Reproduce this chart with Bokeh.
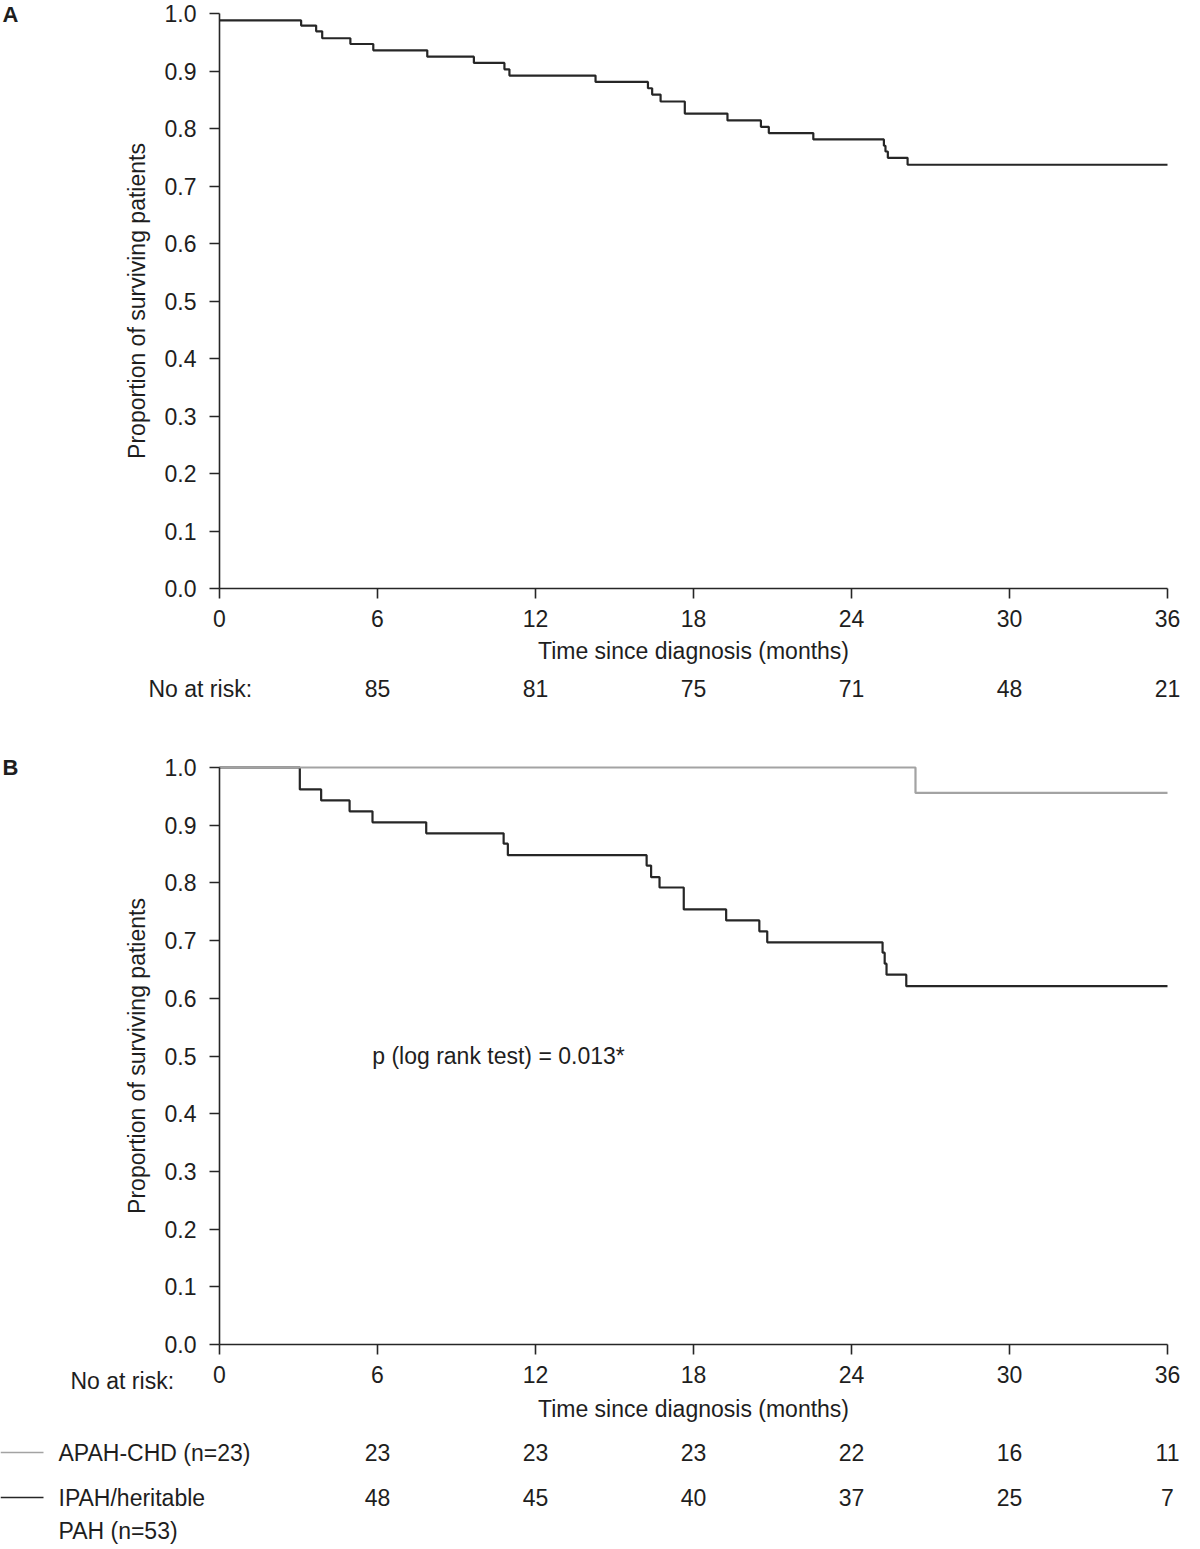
from bokeh.plotting import figure
from bokeh.models import Range1d, Label, Arrow, FixedTicker, PrintfTickFormatter
from bokeh.layouts import column
from bokeh.embed import file_html
from bokeh.resources import INLINE

FONT = "Liberation Sans"
FS = "23px"
TXT = "#1e1e1e"
DARK = "#262626"
GREY = "#a3a3a3"

# ---------------- data ----------------
x_ticks = [0, 6, 12, 18, 24, 30, 36]
y_ticks = [0.0, 0.1, 0.2, 0.3, 0.4, 0.5, 0.6, 0.7, 0.8, 0.9, 1.0]
risk_times = [6, 12, 18, 24, 30, 36]
t_max = 36

# Panel A: all patients
a_time = [0, 3.10, 3.67, 3.90, 4.97, 5.84, 7.89, 9.66, 10.82, 11.01, 14.28,
          16.27, 16.43, 16.75, 17.67, 19.29, 20.56, 20.86, 22.55, 25.23,
          25.29, 25.38, 26.13]
a_surv = [0.988, 0.979, 0.969, 0.957, 0.947, 0.936, 0.925, 0.914, 0.903, 0.892,
          0.881, 0.870, 0.859, 0.847, 0.826, 0.814, 0.803, 0.792, 0.781, 0.770,
          0.760, 0.749, 0.737]
a_at_risk = [85, 81, 75, 71, 48, 21]

# Panel B: by group
ipah_time = [0, 3.05, 3.86, 4.94, 5.81, 7.85, 10.79, 10.95, 16.22, 16.39, 16.71,
             17.63, 19.24, 20.50, 20.80, 25.18, 25.26, 25.33, 26.08]
ipah_surv = [1.0, 0.962, 0.943, 0.924, 0.905, 0.886, 0.868, 0.848, 0.830, 0.810,
             0.792, 0.754, 0.735, 0.716, 0.697, 0.679, 0.660, 0.641, 0.621]
chd_time = [0, 26.43]
chd_surv = [1.0, 0.956]
chd_at_risk = [23, 23, 23, 22, 16, 11]
ipah_at_risk = [48, 45, 40, 37, 25, 7]

chd_name = "APAH-CHD (n=23)"
ipah_name_lines = ["IPAH/heritable", "PAH (n=53)"]
p_text = "p (log rank test) = 0.013*"
x_title = "Time since diagnosis (months)"
y_title = "Proportion of surviving patients"
risk_title = "No at risk:"

# ---------------- layout (page pixels) ----------------
W = 1200
X0_PX, X36_PX = 219, 1167          # where t=0 and t=36 fall


class Panel:
    def __init__(self, top, height, y1_px, y0_px, lab_standoff, title_standoff):
        self.top, self.y1, self.y0 = top, y1_px, y0_px
        self.kx = (X36_PX - X0_PX) / t_max
        self.ky = (y0_px - y1_px) / 1.0
        x_start = -X0_PX / self.kx
        x_end = t_max + (W - X36_PX) / self.kx
        y_end = 1 + (y1_px - top) / self.ky
        y_start = -(top + height - y0_px) / self.ky
        p = figure(width=W, height=height,
                   x_range=Range1d(x_start, x_end), y_range=Range1d(y_start, y_end),
                   output_backend="svg", toolbar_location=None,
                   min_border=0, min_border_left=0, min_border_right=0,
                   min_border_top=0, min_border_bottom=0,
                   outline_line_color=None,
                   x_axis_label=x_title, y_axis_label=y_title)
        p.grid.visible = False
        p.background_fill_color = "white"
        p.border_fill_color = "white"
        xa, ya = p.xaxis[0], p.yaxis[0]
        xa.fixed_location = 0
        xa.bounds = (0, t_max)
        ya.fixed_location = 0
        ya.bounds = (0, 1)
        for ax in (xa, ya):
            ax.axis_line_color = DARK
            ax.axis_line_width = 1.6
            ax.major_tick_line_color = DARK
            ax.major_tick_line_width = 1.6
            ax.major_tick_in = 0
            ax.major_tick_out = 10
            ax.minor_tick_line_color = None
            ax.major_label_text_font = FONT
            ax.major_label_text_font_size = FS
            ax.major_label_text_color = TXT
            ax.axis_label_text_font = FONT
            ax.axis_label_text_font_size = FS
            ax.axis_label_text_font_style = "normal"
            ax.axis_label_text_color = TXT
        xa.ticker = FixedTicker(ticks=x_ticks)
        ya.ticker = FixedTicker(ticks=y_ticks)
        ya.formatter = PrintfTickFormatter(format="%.1f")
        xa.major_label_standoff = lab_standoff
        xa.axis_label_standoff = title_standoff
        ya.major_label_standoff = 13
        ya.axis_label_standoff = 12
        self.p = p

    def dx(self, px):
        return (px - X0_PX) / self.kx

    def dy(self, py):
        return (self.y0 - py) / self.ky

    def text(self, text, px, py, align="left", bold=False, size=FS):
        self.p.add_layout(Label(x=self.dx(px), y=self.dy(py), text=text,
                                text_font=FONT, text_font_size=size, text_color=TXT,
                                text_align=align, text_baseline="middle",
                                text_font_style="bold" if bold else "normal"))

    def data_text(self, text, t, py, align="center"):
        self.p.add_layout(Label(x=t, y=self.dy(py), text=text,
                                text_font=FONT, text_font_size=FS, text_color=TXT,
                                text_align=align, text_baseline="middle"))

    def key_line(self, px0, px1, py, color):
        self.p.add_layout(Arrow(x_start=self.dx(px0), y_start=self.dy(py),
                                x_end=self.dx(px1), y_end=self.dy(py),
                                start=None, end=None,
                                line_color=color, line_width=1.6))


# ---------------- Panel A ----------------
A = Panel(top=0, height=735, y1_px=13, y0_px=588, lab_standoff=11, title_standoff=8)
A.p.step(x=a_time + [t_max], y=a_surv + [a_surv[-1]], mode="after",
         line_color=DARK, line_width=2.2)
A.text("A", 2, 14, bold=True, size="22px")
A.text(risk_title, 148, 688)
for t, n in zip(risk_times, a_at_risk):
    A.data_text(str(n), t, 688)

# ---------------- Panel B ----------------
B = Panel(top=735, height=810, y1_px=767, y0_px=1344, lab_standoff=11, title_standoff=10)
B.p.step(x=ipah_time + [t_max], y=ipah_surv + [ipah_surv[-1]], mode="after",
         line_color=DARK, line_width=2.2)
B.p.step(x=chd_time + [t_max], y=chd_surv + [chd_surv[-1]], mode="after",
         line_color=GREY, line_width=2.2)
B.text("B", 2, 767, bold=True, size="22px")
B.p.add_layout(Label(x=5.8, y=0.5, text=p_text, text_font=FONT, text_font_size=FS,
                     text_color=TXT, text_align="left", text_baseline="middle"))
B.text(risk_title, 70, 1380)
B.key_line(0, 43, 1452, GREY)
B.key_line(0, 43, 1497, DARK)
B.text(chd_name, 58, 1452)
B.text(ipah_name_lines[0], 58, 1497)
B.text(ipah_name_lines[1], 58, 1530)
for t, n1, n2 in zip(risk_times, chd_at_risk, ipah_at_risk):
    B.data_text(str(n1), t, 1452)
    B.data_text(str(n2), t, 1497)

layout = column(A.p, B.p, spacing=0)
open("out.html", "w").write(file_html(layout, INLINE))
